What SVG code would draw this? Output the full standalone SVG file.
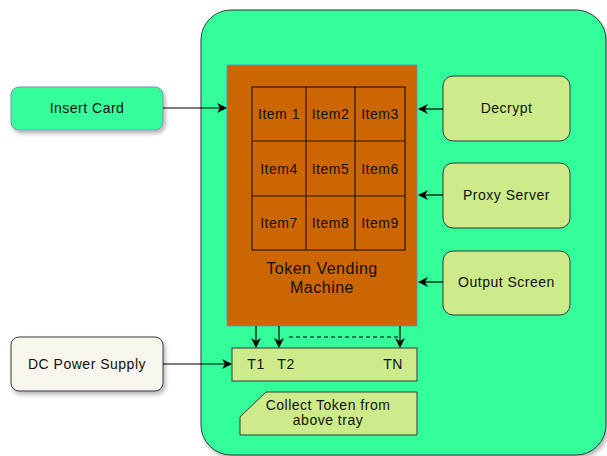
<svg xmlns="http://www.w3.org/2000/svg" width="607" height="456" viewBox="0 0 607 456">
  <defs>
    <marker id="arrow" viewBox="0 0 10 10" refX="9" refY="5" markerWidth="10" markerHeight="10" markerUnits="userSpaceOnUse" orient="auto">
      <path d="M0,0 L10,5 L0,10 L3,5 Z" fill="#000"/>
    </marker>
    <filter id="shadow" x="-10%" y="-20%" width="130%" height="160%">
      <feGaussianBlur in="SourceAlpha" stdDeviation="2"/>
      <feOffset dx="2" dy="3" result="b"/>
      <feComponentTransfer><feFuncA type="linear" slope="0.3"/></feComponentTransfer>
      <feMerge><feMergeNode/><feMergeNode in="SourceGraphic"/></feMerge>
    </filter>
  </defs>
  <style>
    text { font-family: "Liberation Sans", Arial, sans-serif; font-size: 14px; letter-spacing: 0.5px; fill: #111; text-anchor: middle; dominant-baseline: central; }
    .box { fill: #CDEB8B; stroke: #36393d; stroke-width: 1; }
    .grid { fill: none; stroke: #2b1500; stroke-width: 1.2; }
    .conn { fill: none; stroke: #000; stroke-width: 1.2; }
  </style>

  <rect width="607" height="456" fill="#fff"/>

  <!-- enclosure -->
  <g id="enclosure">
    <rect x="201" y="10" width="405" height="445" rx="30" ry="30" fill="#33FF99" stroke="#36393d" stroke-width="1" filter="url(#shadow)"/>
  </g>

  <!-- vending machine body -->
  <g id="machine">
    <rect x="227" y="65" width="190" height="261" fill="#CC6600" stroke="#6c8ebf" stroke-width="0.8"/>
    <rect class="grid" x="252" y="87" width="153" height="163"/>
    <line class="grid" x1="306" y1="87" x2="306" y2="250"/>
    <line class="grid" x1="355" y1="87" x2="355" y2="250"/>
    <line class="grid" x1="252" y1="141" x2="405" y2="141"/>
    <line class="grid" x1="252" y1="196" x2="405" y2="196"/>
    <text x="279" y="114">Item 1</text>
    <text x="330.5" y="114">Item2</text>
    <text x="380" y="114">Item3</text>
    <text x="279" y="168.5">Item4</text>
    <text x="330.5" y="168.5">Item5</text>
    <text x="380" y="168.5">Item6</text>
    <text x="279" y="223">Item7</text>
    <text x="330.5" y="223">Item8</text>
    <text x="380" y="223">Item9</text>
    <text x="322" y="268" style="font-size:16px">Token Vending</text>
    <text x="322" y="287" style="font-size:16px">Machine</text>
  </g>

  <g id="insert-card">
    <rect x="11" y="87" width="152" height="43" rx="8" ry="8" fill="#36FF9A" stroke="#7f8fbf" stroke-width="1" filter="url(#shadow)"/>
    <text x="87" y="108">Insert Card</text>
  </g>

  <g id="dc-power">
    <rect x="11" y="337" width="152" height="54" rx="8" ry="8" fill="#F8F5EC" stroke="#36393d" stroke-width="1" filter="url(#shadow)"/>
    <text x="87" y="363.5">DC Power Supply</text>
  </g>

  <g id="decrypt">
    <rect class="box" x="443" y="76" width="127" height="65" rx="10" ry="10"/>
    <text x="506.5" y="107.5">Decrypt</text>
  </g>

  <g id="proxy-server">
    <rect class="box" x="443" y="163" width="127" height="65" rx="10" ry="10"/>
    <text x="506.5" y="194.5">Proxy Server</text>
  </g>

  <g id="output-screen">
    <rect class="box" x="443" y="251" width="127" height="64" rx="10" ry="10"/>
    <text x="506.5" y="281.5">Output Screen</text>
  </g>

  <g id="token-tray">
    <rect class="box" x="232" y="348" width="185" height="33"/>
    <text x="256" y="364">T1</text>
    <text x="286" y="364">T2</text>
    <text x="393" y="364">TN</text>
  </g>

  <g id="collect-note">
    <path class="box" d="M266,392 L417,392 L417,435 L240,435 L240,417 Z"/>
    <text x="328" y="405">Collect Token from</text>
    <text x="328" y="420">above tray</text>
  </g>

  <!-- connectors -->
  <g id="connectors">
    <line class="conn" x1="163" y1="108" x2="226" y2="108" marker-end="url(#arrow)"/>
    <line class="conn" x1="163" y1="364" x2="231" y2="364" marker-end="url(#arrow)"/>
    <line class="conn" x1="443" y1="109" x2="419" y2="109" marker-end="url(#arrow)"/>
    <line class="conn" x1="443" y1="195" x2="419" y2="195" marker-end="url(#arrow)"/>
    <line class="conn" x1="443" y1="282" x2="419" y2="282" marker-end="url(#arrow)"/>
    <line class="conn" x1="256" y1="326" x2="256" y2="347" marker-end="url(#arrow)"/>
    <line class="conn" x1="279" y1="326" x2="279" y2="347" marker-end="url(#arrow)"/>
    <line class="conn" x1="400" y1="326" x2="400" y2="347" marker-end="url(#arrow)"/>
    <line class="conn" x1="289" y1="337" x2="400" y2="337" stroke-dasharray="4 3"/>
  </g>
</svg>
